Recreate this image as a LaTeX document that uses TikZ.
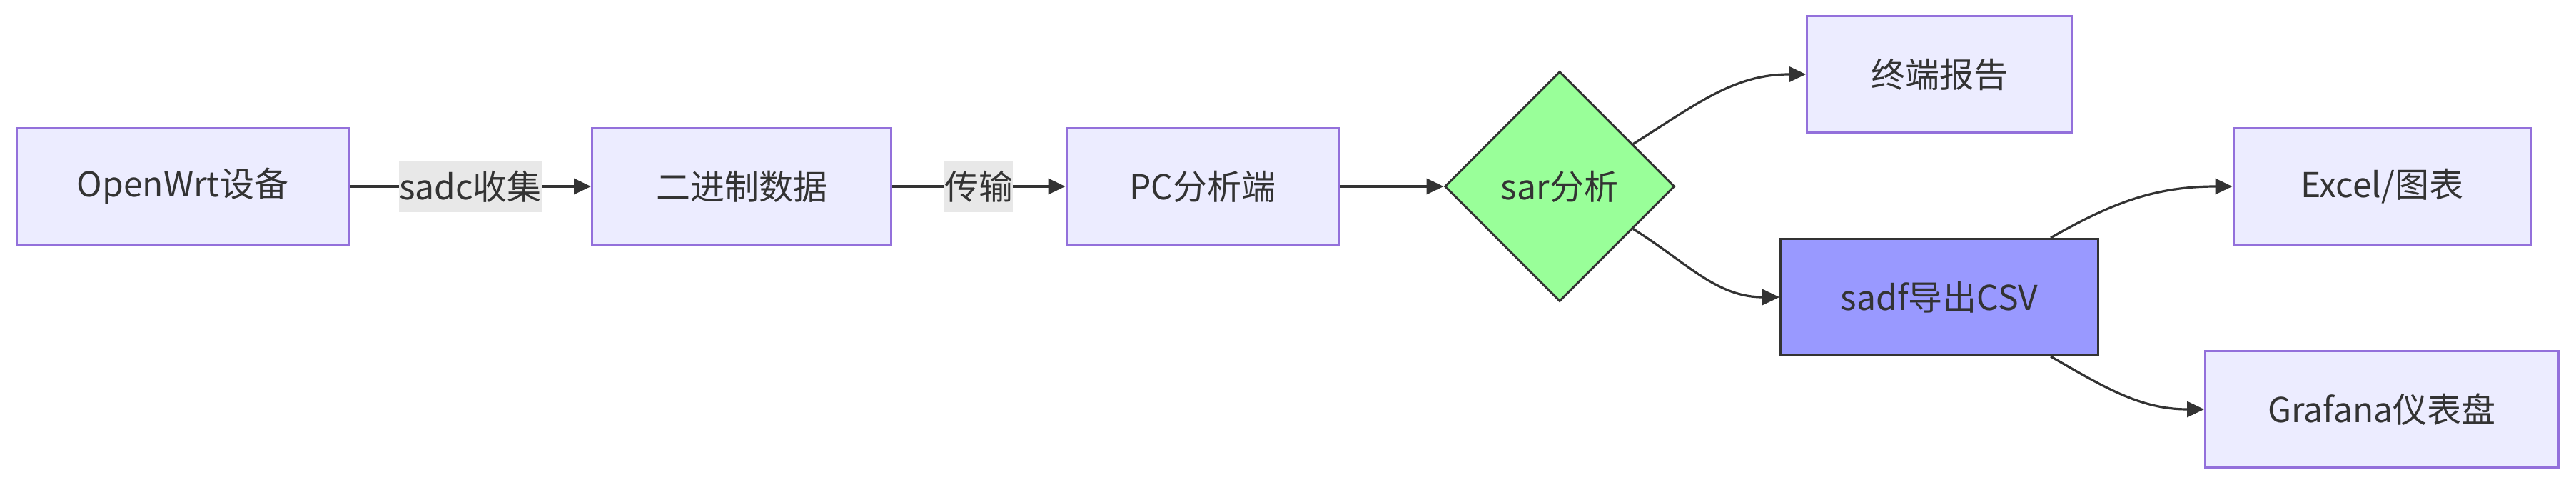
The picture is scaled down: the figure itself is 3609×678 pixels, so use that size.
\documentclass[tikz,border=0pt]{standalone}
\usepackage{fontspec}
\setmainfont{Noto Sans CJK SC}
\usetikzlibrary{shapes.geometric, arrows.meta}
\definecolor{nodefill}{HTML}{ECECFF}
\definecolor{nodeline}{HTML}{9370DB}
\definecolor{inkgray}{HTML}{333333}
\definecolor{sarfill}{HTML}{99FF99}
\definecolor{sadffill}{HTML}{9999FF}
\definecolor{labelfill}{HTML}{E8E8E8}
\tikzset{
    every node/.style={font=\fontsize{12}{14}\selectfont, text=inkgray},
    procbox/.style={draw=nodeline, fill=nodefill, line width=.75pt,
        minimum height=40.75pt, inner sep=0pt},
    decision/.style={diamond, draw=inkgray, fill=sarfill, line width=.75pt,
        minimum width=80.5pt, minimum height=80.5pt, inner sep=0pt},
    flow/.style={draw=inkgray, line width=.8pt,
        -{Triangle[length=6pt, width=5.5pt]}},
    edgelabel/.style={fill=labelfill, inner xsep=0pt, minimum height=18pt},
}

\begin{document}
\begin{tikzpicture}[x=.25pt, y=.25pt]
    \useasboundingbox (0, 0) rectangle (3609, 678);
    % main chain
    \node[procbox, minimum width=116.25pt] (openwrt) at (256, 417)
        {OpenWrt设备};
    \node[procbox, minimum width=104.75pt] (bindata) at (1039, 417)
        {二进制数据};
    \node[procbox, minimum width=95.5pt] (pcside) at (1685, 417)
        {PC分析端};
    \node[decision] (sar) at (2185, 417) {sar分析};
    % outputs
    \node[procbox, minimum width=92.75pt] (report) at (2717, 574)
        {终端报告};
    \node[procbox, draw=inkgray, fill=sadffill, minimum width=111.25pt]
        (sadf) at (2717, 262) {sadf导出CSV};
    \node[procbox, minimum width=104pt] (excel) at (3337, 417)
        {Excel/图表};
    \node[procbox, minimum width=123.75pt] (grafana) at (3337, 105)
        {Grafana仪表盘};
    \draw[flow] (openwrt) -- node[edgelabel] {sadc收集} (bindata);
    \draw[flow] (bindata) -- node[edgelabel] {传输} (pcside);
    \draw[flow] (pcside) -- (sar);
    \draw[flow] (sar.30) to[out=32, in=180] (report.west);
    \draw[flow] (sar.-30) to[out=-32, in=180] (sadf.west);
    \draw[flow] ([xshift=-17pt]sadf.north east) to[out=30, in=180]
        (excel.west);
    \draw[flow] ([xshift=-17pt]sadf.south east) to[out=-30, in=180]
        (grafana.west);
\end{tikzpicture}
\end{document}
